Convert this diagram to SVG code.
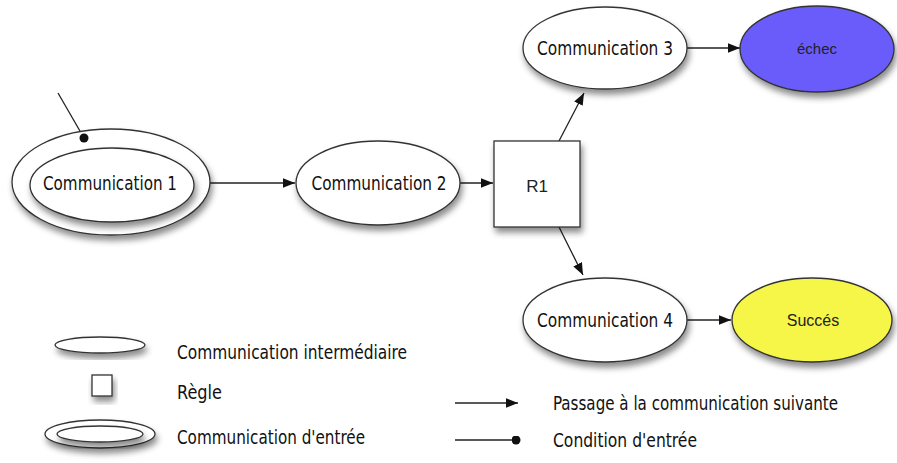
<svg xmlns="http://www.w3.org/2000/svg" width="897" height="463" viewBox="0 0 897 463">
<defs>
<filter id="sh" x="-20%" y="-20%" width="150%" height="160%">
<feDropShadow dx="2" dy="5" stdDeviation="3" flood-color="#000" flood-opacity="0.45"/>
</filter>
<marker id="arr" viewBox="0 0 10 10" refX="10" refY="5" markerWidth="12" markerHeight="12" markerUnits="userSpaceOnUse" orient="auto">
<path d="M0,1 L10,5 L0,9 Z" fill="#111"/>
</marker>
<marker id="dot" viewBox="0 0 10 10" refX="5" refY="5" markerWidth="9" markerHeight="9" markerUnits="userSpaceOnUse" orient="auto">
<circle cx="5" cy="5" r="5" fill="#111"/>
</marker>
</defs>
<style>
.n{fill:#fff;stroke:#333;stroke-width:1.3;}
.c{font-family:"Liberation Sans Narrow","DejaVu Sans Condensed","Liberation Sans",sans-serif;font-size:20px;fill:#111;}
.s{font-family:"Liberation Sans",Arial,sans-serif;font-size:15px;fill:#222;}
.e{stroke:#222;stroke-width:1.3;fill:none;}
</style>
<rect width="897" height="463" fill="#fff"/>

<g id="connectors">
<line class="e" x1="194" y1="183" x2="295" y2="183" marker-end="url(#arr)"/>
<line class="e" x1="460" y1="183" x2="493" y2="183" marker-end="url(#arr)"/>
<line class="e" x1="559" y1="141" x2="584" y2="93" marker-end="url(#arr)"/>
<line class="e" x1="559" y1="227" x2="583" y2="275" marker-end="url(#arr)"/>
<line class="e" x1="687" y1="48" x2="740" y2="48" marker-end="url(#arr)"/>
<line class="e" x1="687" y1="320" x2="731" y2="320" marker-end="url(#arr)"/>
<line class="e" x1="58" y1="93" x2="84" y2="138" marker-end="url(#dot)"/>
</g>

<g id="comm1">
<ellipse class="n" cx="111" cy="182" rx="99" ry="53" filter="url(#sh)"/>
<ellipse class="n" cx="112" cy="185" rx="82" ry="37" filter="url(#sh)"/>
<circle cx="84" cy="138" r="4.5" fill="#111"/>
<text class="c" x="110" y="190" text-anchor="middle" textLength="134" lengthAdjust="spacingAndGlyphs">Communication 1</text>
</g>

<g id="comm2">
<ellipse class="n" cx="378" cy="183" rx="82" ry="42" filter="url(#sh)"/>
<text class="c" x="379" y="190" text-anchor="middle" textLength="135" lengthAdjust="spacingAndGlyphs">Communication 2</text>
</g>

<g id="r1">
<rect class="n" x="494" y="141" width="86" height="86" filter="url(#sh)"/>
<text class="s" x="537" y="192" text-anchor="middle" style="font-size:17px">R1</text>
</g>

<g id="comm3">
<ellipse class="n" cx="605" cy="48" rx="82" ry="41" filter="url(#sh)"/>
<text class="c" x="605" y="55" text-anchor="middle" textLength="136" lengthAdjust="spacingAndGlyphs">Communication 3</text>
</g>

<g id="echec">
<ellipse class="n" cx="817" cy="49" rx="77" ry="43" style="fill:#6a5cfb" filter="url(#sh)"/>
<text class="s" x="817" y="54" text-anchor="middle">échec</text>
</g>

<g id="comm4">
<ellipse class="n" cx="605" cy="320" rx="82" ry="42" filter="url(#sh)"/>
<text class="c" x="605" y="327" text-anchor="middle" textLength="136" lengthAdjust="spacingAndGlyphs">Communication 4</text>
</g>

<g id="succes">
<ellipse class="n" cx="812" cy="320" rx="80" ry="42" style="fill:#f6f64a" filter="url(#sh)"/>
<text class="s" x="813" y="326" text-anchor="middle" style="font-size:16px">Succés</text>
</g>

<g id="legend">
<ellipse class="n" cx="100" cy="345" rx="45" ry="8" filter="url(#sh)"/>
<rect class="n" x="92" y="375" width="20" height="21" filter="url(#sh)"/>
<ellipse class="n" cx="100" cy="434" rx="55" ry="14" filter="url(#sh)"/>
<ellipse class="n" cx="100" cy="434" rx="43" ry="8" filter="url(#sh)"/>
<text class="c" x="177" y="359" textLength="230" lengthAdjust="spacingAndGlyphs">Communication intermédiaire</text>
<text class="c" x="177" y="399" textLength="45" lengthAdjust="spacingAndGlyphs">Règle</text>
<text class="c" x="177" y="444" textLength="188" lengthAdjust="spacingAndGlyphs">Communication d'entrée</text>
<line class="e" x1="455" y1="403" x2="518" y2="403" marker-end="url(#arr)"/>
<line class="e" x1="455" y1="440" x2="516" y2="440" marker-end="url(#dot)"/>
<text class="c" x="553" y="410" textLength="285" lengthAdjust="spacingAndGlyphs">Passage à la communication suivante</text>
<text class="c" x="553" y="447" textLength="144" lengthAdjust="spacingAndGlyphs">Condition d'entrée</text>
</g>
</svg>
